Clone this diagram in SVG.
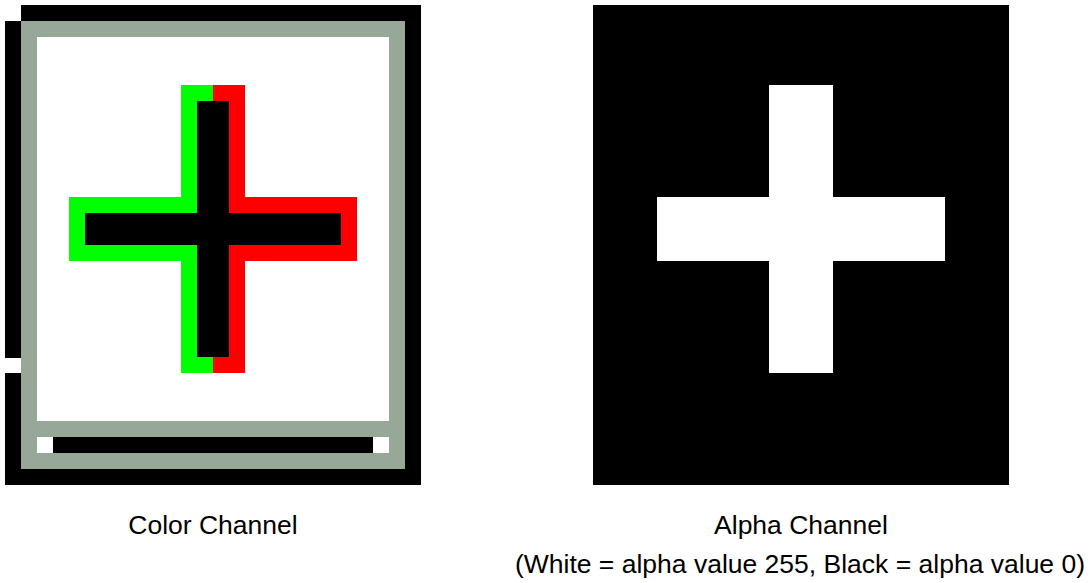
<svg xmlns="http://www.w3.org/2000/svg" width="1092" height="583" viewBox="0 0 1092 583">
  <style>
    .k { fill: #000000; }
    .w { fill: #ffffff; }
    .g { fill: #98a898; }
    .grn { fill: #00ff00; }
    .red { fill: #ff0000; }
    .lbl { font-family: "Liberation Sans", Arial, sans-serif; font-size: 26.5px; fill: #000000; text-anchor: middle; }
  </style>
  <rect x="0" y="0" width="1092" height="583" class="w"/>

  <g id="color-channel">
    <!-- outer black frame -->
    <rect x="21" y="5" width="400" height="16" class="k"/>
    <rect x="5" y="21" width="16" height="337" class="k"/>
    <rect x="5" y="373" width="16" height="112" class="k"/>
    <rect x="405" y="5" width="16" height="480" class="k"/>
    <rect x="5" y="469" width="416" height="16" class="k"/>
    <!-- grey frame -->
    <rect x="21" y="21" width="384" height="448" class="g"/>
    <!-- white inner -->
    <rect x="37" y="37" width="352" height="384" class="w"/>
    <!-- bottom bar -->
    <rect x="37" y="437" width="16" height="16" class="w"/>
    <rect x="53" y="437" width="320" height="16" class="k"/>
    <rect x="373" y="437" width="16" height="16" class="w"/>
    <!-- cross -->
    <rect x="181" y="85" width="64" height="288" class="grn"/>
    <rect x="69" y="197" width="288" height="64" class="grn"/>
    <rect x="213" y="85" width="32" height="288" class="red"/>
    <rect x="229" y="197" width="128" height="64" class="red"/>
    <rect x="197" y="101" width="32" height="256" class="k"/>
    <rect x="85" y="213" width="256" height="32" class="k"/>
  </g>

  <g id="alpha-channel">
    <rect x="593" y="5" width="416" height="480" class="k"/>
    <rect x="769" y="85" width="64" height="288" class="w"/>
    <rect x="657" y="197" width="288" height="64" class="w"/>
  </g>

  <g id="labels">
    <text x="213" y="534" class="lbl">Color Channel</text>
    <text x="801" y="534" class="lbl">Alpha Channel</text>
    <text x="800" y="573" class="lbl">(White = alpha value 255, Black = alpha value 0)</text>
  </g>
</svg>
